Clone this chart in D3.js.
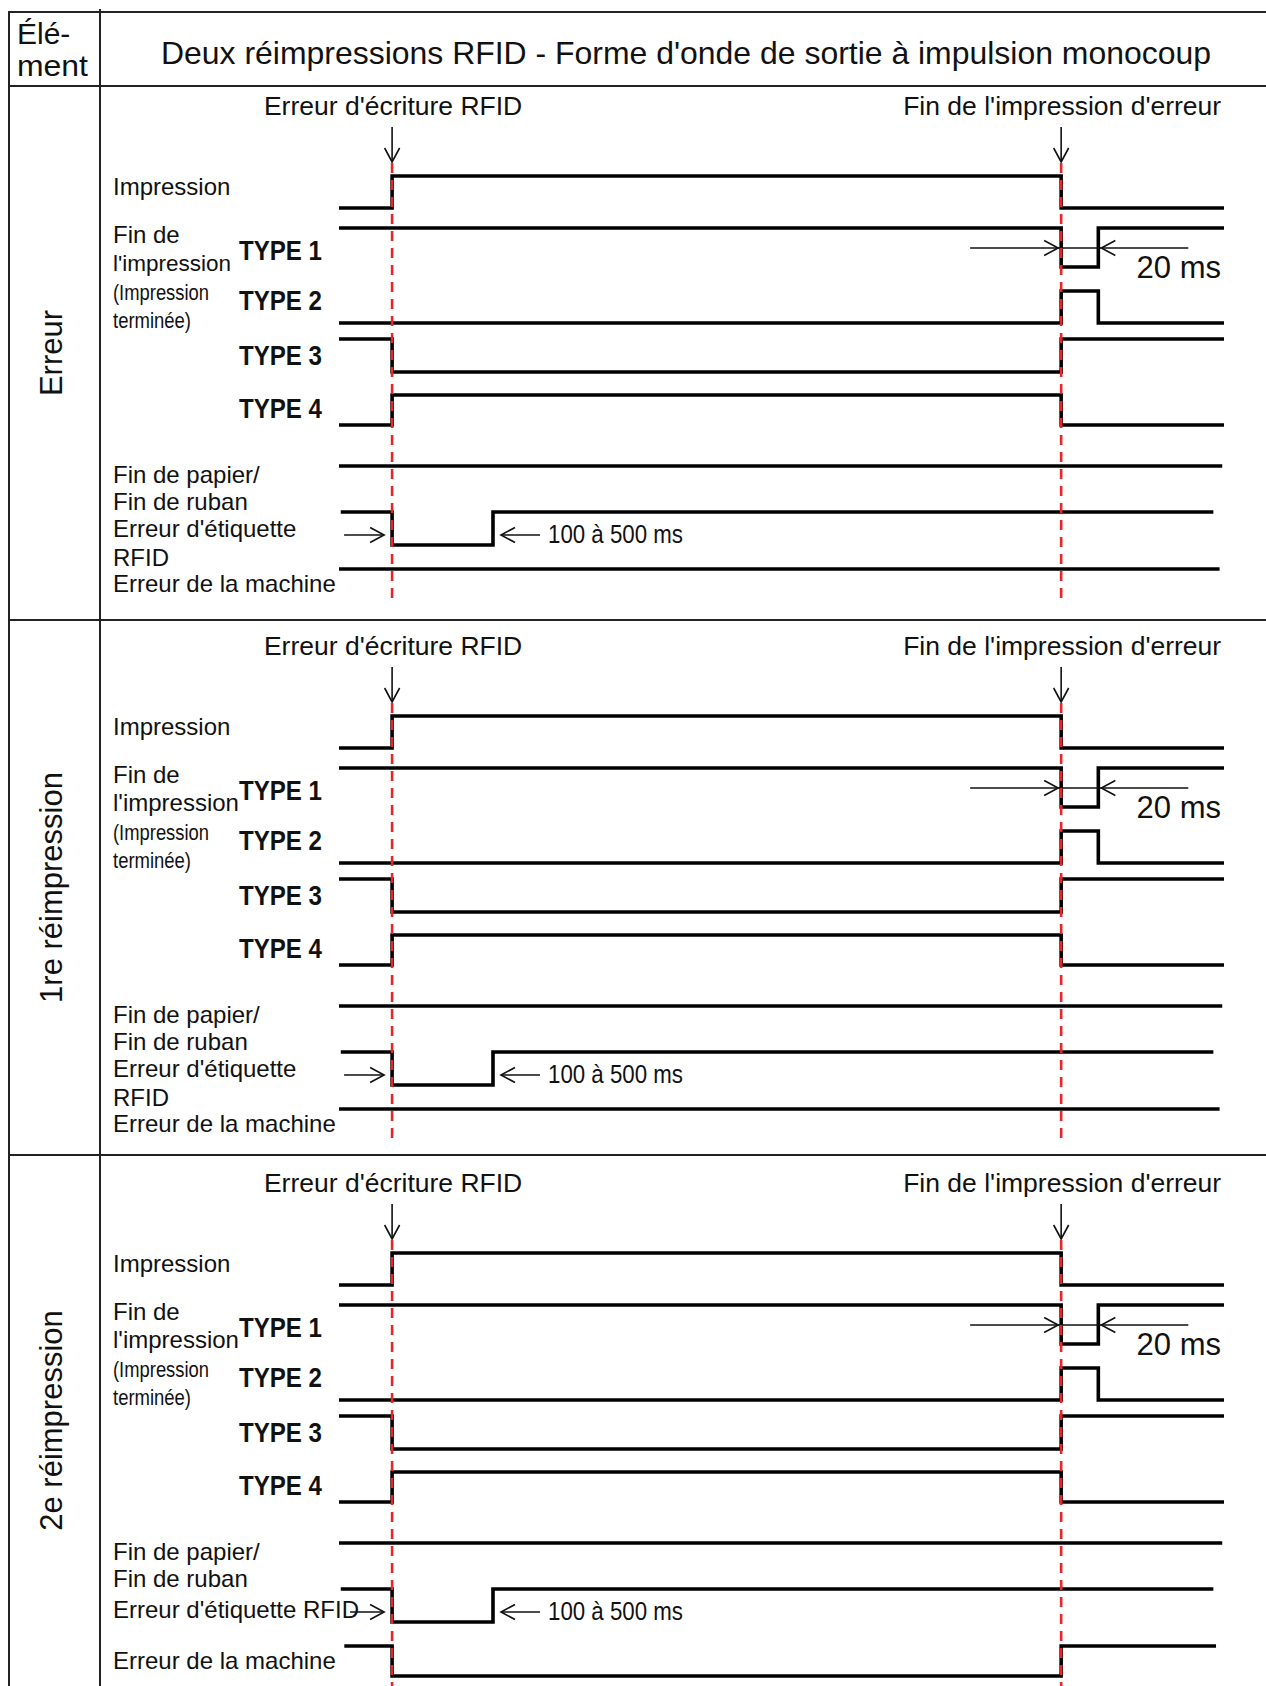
<!DOCTYPE html>
<html><head><meta charset="utf-8">
<script src="https://cdn.jsdelivr.net/npm/d3@7"></script>
<style>
body{margin:0;background:#fff}
svg{display:block}
text{font-family:"Liberation Sans",Arial,Helvetica,sans-serif;fill:#111}
</style>
</head><body><svg id="c" width="1266" height="1686"></svg>
<script>
// ---------- data ----------
const headerCell = ["Élé-", "ment"];
const titleText = "Deux réimpressions RFID - Forme d'onde de sortie à impulsion monocoup";
const sectionNames = ["Erreur", "1re réimpression", "2e réimpression"];
const eventNames = ["Erreur d'écriture RFID", "Fin de l'impression d'erreur"];
const eventTimes = [6.0, 81.6];          // time units, 0..100 across the trace area
const pulseEndTime = 85.8;               // end of the 20 ms pulse
const rfidRecoverTime = 17.4;            // end of the 100–500 ms RFID error pulse
const pulseLabel = "20 ms";
const rfidPulseLabel = "100 à 500 ms";
const typeNames = ["TYPE 1", "TYPE 2", "TYPE 3", "TYPE 4"];
const printEndLabel = ["Fin de", "l'impression", "(Impression", "terminée)"];
const printLabel = "Impression";
const paperLabel = ["Fin de papier/", "Fin de ruban"];
const rfidLabels = [["Erreur d'étiquette", "RFID"], ["Erreur d'étiquette", "RFID"], ["Erreur d'étiquette RFID"]];
const machineLabel = "Erreur de la machine";

// waveforms: [time, level]
const wImpression = [[0,0],[6.0,1],[81.6,0],[100,0]];
const wType1 = [[0,1],[81.6,0],[85.8,1],[100,1]];
const wType2 = [[0,0],[81.6,1],[85.8,0],[100,0]];
const wType3 = [[0,1],[6.0,0],[81.6,1],[100,1]];
const wType4 = [[0,0],[6.0,1],[81.6,0],[100,0]];
const wPaper = [[0,1],[99.8,1]];
const wRfid = [[0.2,1],[6.0,0],[17.4,1],[98.8,1]];
const wMachineFlat = [[0,1],[99.5,1]];
const wMachineError = [[0.6,1],[6.0,0],[81.6,1],[99.1,1]];
const machineWaves = [wMachineFlat, wMachineFlat, wMachineError];

// ---------- layout ----------
const svg = d3.select("#c");
const W = 1266, H = 1686;
const x = d3.scaleLinear().domain([0, 100]).range([339, 1224]);
const secOffset = [0, 540, 1077];
const secBounds = [86, 620, 1155, H];
const rows = {
  impression: {hi:176, lo:208},
  type1: {hi:228, lo:267},
  type2: {hi:291, lo:323},
  type3: {hi:339, lo:372},
  type4: {hi:395, lo:425},
  paper: {hi:466, lo:498},
  rfid:  {hi:512, lo:545},
  machine: {hi:569, lo:599}
};

// table grid
const grid = svg.append("g").attr("stroke", "#222").attr("stroke-width", 2).attr("fill", "none");
[12, 86, 620, 1155].forEach(yy => grid.append("line").attr("x1", 8).attr("x2", W).attr("y1", yy).attr("y2", yy));
grid.append("line").attr("x1", 9).attr("x2", 9).attr("y1", 12).attr("y2", H);
grid.append("line").attr("x1", 100).attr("x2", 100).attr("y1", 9).attr("y2", H);

// header
svg.append("text").attr("x", 17).attr("y", 44).attr("font-size", 30).text(headerCell[0]);
svg.append("text").attr("x", 17).attr("y", 76).attr("font-size", 30).attr("textLength", 71)
  .attr("lengthAdjust", "spacingAndGlyphs").text(headerCell[1]);
svg.append("text").attr("x", 686).attr("y", 64).attr("font-size", 32).attr("text-anchor", "middle")
  .attr("textLength", 1050).attr("lengthAdjust", "spacingAndGlyphs").text(titleText);

function head(g, tx, ty, dir) {
  const L = 14, h = 7.5;
  let p;
  if (dir === "down") p = `M${tx - h},${ty - L}L${tx},${ty}L${tx + h},${ty - L}`;
  if (dir === "right") p = `M${tx - L},${ty - h}L${tx},${ty}L${tx - L},${ty + h}`;
  if (dir === "left") p = `M${tx + L},${ty - h}L${tx},${ty}L${tx + L},${ty + h}`;
  g.append("path").attr("d", p).attr("fill", "none").attr("stroke", "#111").attr("stroke-width", 1.6);
}
function label(g, tx, ty, txt, size, opts = {}) {
  const t = g.append("text").attr("x", tx).attr("y", ty).attr("font-size", size).text(txt);
  if (opts.w) t.attr("textLength", opts.w).attr("lengthAdjust", "spacingAndGlyphs");
  if (opts.bold) t.attr("font-weight", "bold");
  if (opts.anchor) t.attr("text-anchor", opts.anchor);
  return t;
}

sectionNames.forEach((name, s) => {
  const oy = secOffset[s];
  const g = svg.append("g").attr("transform", `translate(0,${oy})`);
  const cy = (secBounds[s] + secBounds[s + 1]) / 2 - oy;
  // rotated section label
  g.append("text").attr("transform", `translate(62,${cy}) rotate(-90)`)
    .attr("font-size", 31).attr("text-anchor", "middle").text(name);

  // event labels and arrows
  eventNames.forEach((en, i) => {
    const ex = x(eventTimes[i]);
    label(g, ex + 1, 115, en, 26.5, {anchor: "middle"});
    g.append("line").attr("x1", ex).attr("x2", ex).attr("y1", 127).attr("y2", 162)
      .attr("stroke", "#111").attr("stroke-width", 1.6);
    head(g, ex, 162, "down");
  });

  // signal labels
  label(g, 113, 195, printLabel, 24);
  label(g, 113, 243, printEndLabel[0], 24);
  label(g, 113, 271, printEndLabel[1], s === 0 ? 22.5 : 24);
  label(g, 113, 300, printEndLabel[2], 22, {w: 96});
  label(g, 113, 328, printEndLabel[3], 22, {w: 78});
  [260, 310, 365, 418].forEach((yy, i) => label(g, 239, yy, typeNames[i], 28, {bold: true, w: 83}));
  label(g, 113, 483, paperLabel[0], 24);
  label(g, 113, 510, paperLabel[1], 24);
  if (rfidLabels[s].length === 2) {
    label(g, 113, 537, rfidLabels[s][0], 24);
    label(g, 113, 566, rfidLabels[s][1], 24);
  } else {
    label(g, 113, 541, rfidLabels[s][0], 24);
  }
  label(g, 113, 592, machineLabel, 24);

  // waveforms
  const waves = [
    ["impression", wImpression], ["type1", wType1], ["type2", wType2], ["type3", wType3],
    ["type4", wType4], ["paper", wPaper], ["rfid", wRfid], ["machine", machineWaves[s]]
  ];
  waves.forEach(([id, data]) => {
    const y = d3.scaleLinear().domain([0, 1]).range([rows[id].lo, rows[id].hi]);
    const line = d3.line().x(d => x(d[0])).y(d => y(d[1])).curve(d3.curveStepAfter);
    g.append("path").attr("d", line(data)).attr("fill", "none")
      .attr("stroke", "#000").attr("stroke-width", 3.6).attr("stroke-linejoin", "miter");
  });

  // 20 ms annotation
  const a1 = x(eventTimes[1]), a2 = x(pulseEndTime);
  g.append("line").attr("x1", a1 - 91).attr("x2", a2 + 90).attr("y1", 248).attr("y2", 248)
    .attr("stroke", "#111").attr("stroke-width", 1.6);
  head(g, a1 - 3, 248, "right");
  head(g, a2 + 3, 248, "left");
  label(g, 1221, 278, pulseLabel, 31, {anchor: "end"});

  // 100-500 ms annotation
  const r1 = x(eventTimes[0]), r2 = x(rfidRecoverTime);
  const tail = s === 2 ? r1 - 42 : r1 - 48;
  g.append("line").attr("x1", tail).attr("x2", r1 - 8).attr("y1", 535).attr("y2", 535)
    .attr("stroke", "#111").attr("stroke-width", 1.6);
  head(g, r1 - 8, 535, "right");
  g.append("line").attr("x1", r2 + 8).attr("x2", r2 + 47).attr("y1", 535).attr("y2", 535)
    .attr("stroke", "#111").attr("stroke-width", 1.6);
  head(g, r2 + 8, 535, "left");
  label(g, 548, 543, rfidPulseLabel, 25, {w: 135});

  // red dashed event markers
  const yEnd = s === 2 ? H - oy : 598;
  eventTimes.forEach(t => {
    g.append("line").attr("x1", x(t)).attr("x2", x(t)).attr("y1", 163).attr("y2", yEnd)
      .attr("stroke", "#e8252b").attr("stroke-width", 2.6).attr("stroke-dasharray", "10,7");
  });
});
</script>
</body></html>
